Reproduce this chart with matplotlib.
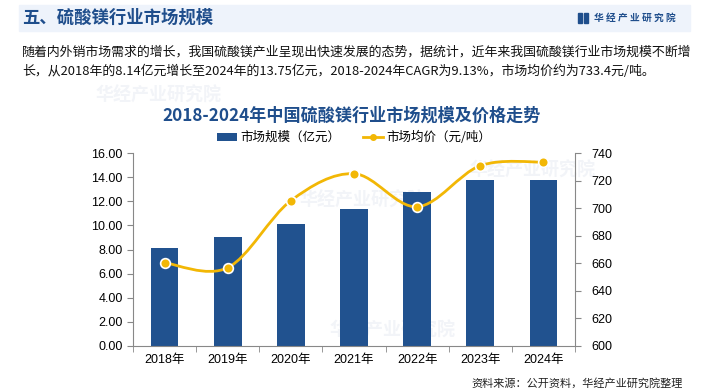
import matplotlib
matplotlib.use("Agg")
import matplotlib.pyplot as plt
from matplotlib.path import Path
from matplotlib.patches import PathPatch, Rectangle
import numpy as np

plt.rcParams['font.family'] = ['Liberation Sans', 'Noto Sans CJK SC', 'DejaVu Sans']

# data
years = ['2018年', '2019年', '2020年', '2021年', '2022年', '2023年', '2024年']
market_size = [8.14, 9.06, 10.12, 11.36, 12.77, 13.80, 13.75]   # 亿元
avg_price = [660.4, 656.8, 705.4, 725.0, 701.0, 730.8, 733.4]    # 元/吨
left_ticks = [0, 2, 4, 6, 8, 10, 12, 14, 16]
right_ticks = [600, 620, 640, 660, 680, 700, 720, 740]

blue = '#21528f'
gold = '#f2b705'
cjk = ['Noto Sans CJK SC', 'DejaVu Sans']

fig = plt.figure(figsize=(7.05, 3.92), dpi=100)
W, H = 705, 392

# header band
fig.patches.append(Rectangle((19 / W, 1 - 31 / H), 671 / W, 26 / H,
                             transform=fig.transFigure, color='#eef3fb', zorder=0))
fig.text(22 / W, 1 - 18 / H, '五、硫酸镁行业市场规模', family=cjk, fontsize=12.5,
         fontweight='bold', color='#1f4e8c', va='center')
fig.patches.append(Rectangle((578 / W, 1 - 23 / H), 4 / W, 10 / H,
                             transform=fig.transFigure, color='#1f4e8c'))
fig.patches.append(Rectangle((584 / W, 1 - 23 / H), 4 / W, 10 / H,
                             transform=fig.transFigure, color='#1f4e8c'))
fig.text(594 / W, 1 - 18 / H, '华 经 产 业 研 究 院', family=cjk, fontsize=7,
         fontweight='bold', color='#1f4e8c', va='center')

# faint watermarks (behind the chart)
for wx, wy in [(95, 95), (300, 200), (470, 170), (330, 330)]:
    fig.text(wx / W, 1 - wy / H, '华经产业研究院', family=cjk, fontsize=13,
             fontweight='bold', color='#f2f4f8', va='center', zorder=0)

# paragraph
fig.text(22 / W, 1 - 52 / H,
         '随着内外销市场需求的增长，我国硫酸镁产业呈现出快速发展的态势，据统计，近年来我国硫酸镁行业市场规模不断增',
         family=cjk, fontsize=9.3, color='#111111', va='center')
fig.text(22 / W, 1 - 71 / H,
         '长，从2018年的8.14亿元增长至2024年的13.75亿元，2018-2024年CAGR为9.13%，市场均价约为733.4元/吨。',
         family=cjk, fontsize=9.3, color='#111111', va='center')

# chart title
fig.text(352 / W, 1 - 116 / H, '2018-2024年中国硫酸镁行业市场规模及价格走势',
         family=cjk, fontsize=12.3, fontweight='bold', color='#1f4e8c',
         ha='center', va='center')

ax = fig.add_axes([133 / W, 1 - 346 / H, 442 / W, 193 / H])
ax.set_zorder(2)
ax.patch.set_alpha(0)
x = np.arange(len(years))
bars = ax.bar(x, market_size, width=0.44, color=blue, zorder=2, label='市场规模（亿元）')
ax.set_xlim(-0.5, len(years) - 0.5)
ax.set_ylim(0, 16)
ax.set_yticks(left_ticks)
ax.set_yticklabels([f'{v:.2f}' for v in left_ticks])
ax.set_xticks(x)
ax.set_xticklabels(years)
ax.set_xticks(np.arange(-0.5, len(years)), minor=True)
ax.tick_params(axis='x', which='major', length=0, pad=6, labelsize=9)
ax.tick_params(axis='x', which='minor', length=4, color='#888888')
ax.tick_params(axis='y', length=4, color='#888888', labelsize=9)
for s in ['top', 'right']:
    ax.spines[s].set_visible(False)
for s in ['left', 'bottom']:
    ax.spines[s].set_color('#888888')

ax2 = ax.twinx()
ax2.set_zorder(3)
ax2.patch.set_alpha(0)
ax2.set_ylim(600, 740)
ax2.set_yticks(right_ticks)
ax2.tick_params(axis='y', length=4, color='#888888', labelsize=9, pad=8)
for s in ['top', 'left', 'bottom']:
    ax2.spines[s].set_visible(False)
ax2.spines['right'].set_color('#888888')

# smooth price curve (Catmull-Rom to Bezier)
pts = np.column_stack([x, avg_price]).astype(float)
verts = [pts[0]]
codes = [Path.MOVETO]
for i in range(len(pts) - 1):
    p0 = pts[i - 1] if i > 0 else pts[i]
    p1, p2 = pts[i], pts[i + 1]
    p3 = pts[i + 2] if i + 2 < len(pts) else pts[i + 1]
    c1 = p1 + (p2 - p0) / 6
    c2 = p2 - (p3 - p1) / 6
    verts += [c1, c2, p2]
    codes += [Path.CURVE4] * 3
ax2.add_patch(PathPatch(Path(verts, codes), fill=False, edgecolor=gold, lw=2, zorder=3))
ax2.plot(x, avg_price, 'o', color=gold, markersize=7, markeredgecolor='white',
         markeredgewidth=1.2, zorder=4)
line_handle, = ax2.plot([], [], '-o', color=gold, lw=2, markersize=4,
                        label='市场均价（元/吨）')

ax.legend(handles=[bars, line_handle], loc='lower center', bbox_to_anchor=(0.5, 1.0),
          ncol=2, frameon=False, prop={'family': cjk, 'size': 9},
          handlelength=1.6, handletextpad=0.3, columnspacing=1.8, borderaxespad=0.3)

fig.text(683 / W, 1 - 383 / H, '资料来源：公开资料，华经产业研究院整理', family=cjk,
         fontsize=8, color='#222222', ha='right', va='center')

fig.savefig('out.png', dpi=100)
